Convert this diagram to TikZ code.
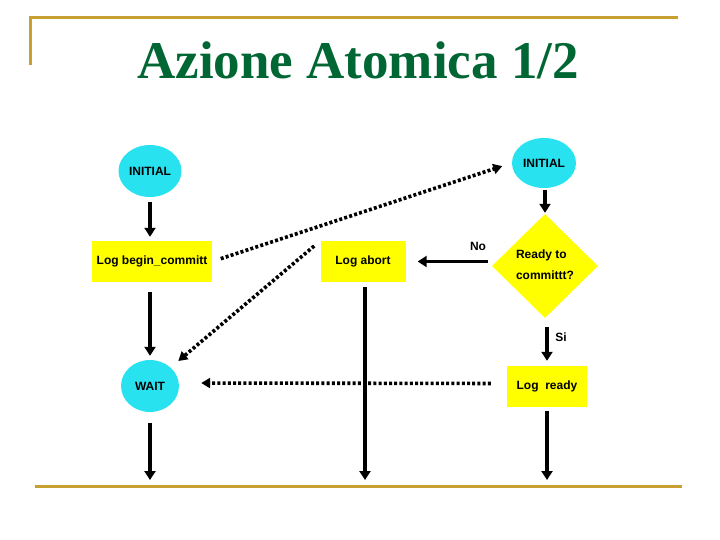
\documentclass[tikz,border=0pt]{standalone}
\usepackage{fontspec}
\setmainfont{Liberation Serif}
\setsansfont{Liberation Sans}
\usetikzlibrary{shapes.geometric,arrows.meta}
\definecolor{titlegreen}{RGB}{0,102,51}
\definecolor{rulegold}{RGB}{200,160,48}
\definecolor{statecyan}{RGB}{40,226,240}
\definecolor{logyellow}{RGB}{255,255,0}
\begin{document}
\begin{tikzpicture}[x=1pt,y=-1pt,
  state/.style={ellipse,fill=statecyan,inner sep=0pt,font=\sffamily\bfseries\fontsize{12}{14}\selectfont},
  logbox/.style={rectangle,fill=logyellow,inner sep=0pt,font=\sffamily\bfseries\fontsize{12}{14}\selectfont},
  decision/.style={diamond,fill=logyellow,inner sep=0pt,align=left,font=\sffamily\bfseries\fontsize{12}{21}\selectfont},
  lbl/.style={inner sep=0pt,font=\sffamily\bfseries\fontsize{12}{14}\selectfont},
  flow/.style={line width=3.5pt,-{Triangle[width=11pt,length=9pt]}},
  msg/.style={line width=3.6pt,dash pattern=on 3pt off 2.2pt,-{Triangle[width=10pt,length=9pt]}}]
  \useasboundingbox (0,0) rectangle (720,540);
  % frame and title
  \draw[rulegold,line width=3pt] (30,65) -- (30,18) -- (678,18);
  \draw[rulegold,line width=3pt] (35,486) -- (682,486);
  \node[font=\bfseries\fontsize{53}{60}\selectfont,text=titlegreen,anchor=base] (title) at (358,79) {Azione Atomica 1/2};
  % coordinator
  \node[state,minimum width=63pt,minimum height=52pt] (init1) at (150,171) {INITIAL};
  \node[logbox,minimum width=120pt,minimum height=41pt] (logbegin) at (152,261.5) {Log begin\_committ};
  \node[state,minimum width=58pt,minimum height=52pt] (wait) at (150,386) {WAIT};
  \coordinate (endL) at (150,480);
  \draw[flow,shorten <=5pt,shorten >=4pt] (init1) -- (init1 |- logbegin.north);
  \draw[flow,shorten <=10pt,shorten >=4pt] (logbegin.south -| wait) -- (wait);
  \draw[flow,shorten <=11pt] (wait) -- (endL);
  % abort
  \node[logbox,minimum width=85pt,minimum height=41pt] (logabort) at (363,261.5) {Log abort};
  \coordinate (endM) at (365,480);
  \draw[flow,shorten <=5pt] (logabort.south -| endM) -- (endM);
  % participant
  \node[state,minimum width=64pt,minimum height=50pt] (init2) at (544,163) {INITIAL};
  \node[decision,minimum width=106pt,minimum height=104pt] (decide) at (545,266) {\raisebox{3pt}{Ready to}\\\raisebox{3pt}{committt?}};
  \node[logbox,minimum width=80pt,minimum height=41pt] (logready) at (547,386.5) {Log\ \ ready};
  \coordinate (endR) at (547,480);
  \draw[flow,shorten <=2pt,shorten >=1pt] (init2.south -| decide.north) -- (decide.north);
  \draw[flow,shorten <=9pt,shorten >=5pt] (decide.south -| logready.north) -- (logready.north);
  \draw[flow,shorten <=4pt] (logready) -- (endR);
  \draw[flow,shorten <=4pt,shorten >=12pt] (decide.west |- logabort) -- (logabort.east);
  \node[lbl] (no) at (478,246) {No};
  \node[lbl] (si) at (561,337) {Si};
  % messages
  \draw[msg,shorten <=9pt,shorten >=10pt] (logbegin.east) -- (init2.west);
  \draw[msg,shorten <=8pt,shorten >=10pt] (logabort.north west) -- (wait.north east);
  \draw[msg,shorten <=16pt,shorten >=22pt] ([yshift=3pt]logready.west) -- ([yshift=3pt]wait.east);
\end{tikzpicture}
\end{document}
